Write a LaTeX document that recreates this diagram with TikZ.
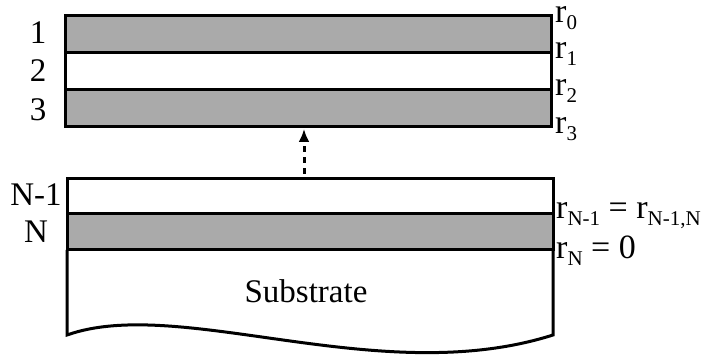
\documentclass[tikz,border=0pt]{standalone}
\usepackage{fontspec}
\setmainfont{Liberation Serif}
\usetikzlibrary{arrows.meta, positioning}

\definecolor{layergray}{RGB}{170,170,170}
\newcommand{\rsub}[1]{\raisebox{-7pt}{\fontsize{21}{21}\selectfont #1}}

\tikzset{
    layer/.style={draw, line width=3pt, minimum width=486pt, inner sep=0pt, outer sep=0pt, anchor=north west},
    num/.style={inner sep=0pt, font=\fontsize{33}{38}\selectfont},
    rlabel/.style={inner sep=0pt, anchor=base west, text height=16pt, font=\fontsize{34}{38}\selectfont},
    uparrow/.style={line width=3pt, dash pattern=on 6pt off 5pt, -{Latex[length=13pt, width=11pt]}},
}

\begin{document}
\begin{tikzpicture}[x=1pt, y=-1pt]
    \useasboundingbox (0,0) rectangle (702,358);

    % top layers
    \node[layer, fill=layergray, minimum height=37pt] (l1) at (65,16) {};
    \node[layer, minimum height=37pt] (l2) at (l1.south west) {};
    \node[layer, fill=layergray, minimum height=37pt] (l3) at (l2.south west) {};

    \node[num] (n1) at (38,33) {1};
    \node[num] (n2) at (38,71) {2};
    \node[num] (n3) at (38,110) {3};

    \node[rlabel] (r0) at (555,23) {r\rsub{0}};
    \node[rlabel] (r1) at (555,59) {r\rsub{1}};
    \node[rlabel] (r2) at (555,96) {r\rsub{2}};
    \node[rlabel] (r3) at (555,134) {r\rsub{3}};

    % bottom layers and substrate
    \node[layer, minimum height=35pt] (lN1) at (67,179) {};
    \node[layer, fill=layergray, minimum height=36pt] (lN) at (lN1.south west) {};

    \coordinate (sl) at (67,335);
    \coordinate (sr) at (553,335);
    \draw[line width=3pt, line join=miter] (lN.south west) -- (sl)
        .. controls (180,295) and (380,390) .. (sr) -- (lN.south east);

    \node[num] (nN1) at (36,195) {N-1};
    \node[num] (nN) at (36,232) {N};
    \node[num] (sub) at (306,291) {Substrate};

    \node[rlabel] (rN1) at (556,219) {r\rsub{N-1} = r\rsub{N-1,N}};
    \node[rlabel] (rN) at (556,259) {r\rsub{N} = 0};

    \draw[uparrow] ([xshift=-6pt, yshift=5pt]lN1.north) -- ([xshift=-4pt, yshift=-2pt]l3.south);
\end{tikzpicture}
\end{document}
